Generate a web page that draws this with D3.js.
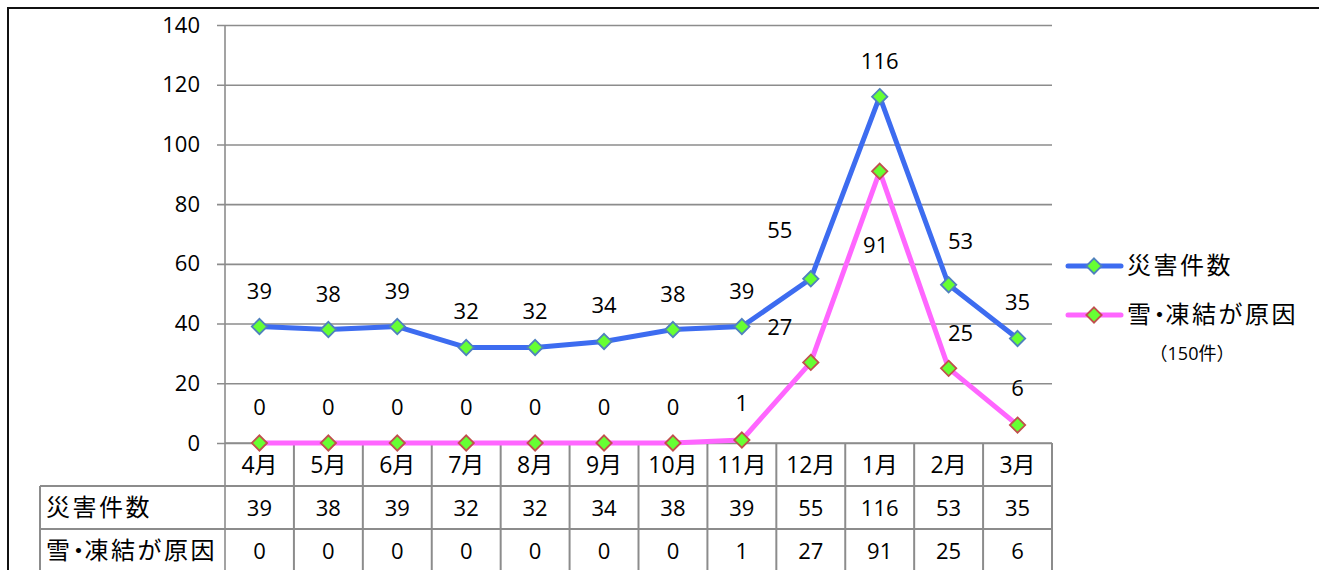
<!DOCTYPE html>
<html>
<head>
<meta charset="utf-8">
<script src="https://cdn.jsdelivr.net/npm/d3@7"></script>
<style>
  html, body { margin: 0; padding: 0; background: #fff; }
  svg { display: block; }
  text { font-family: "Open Sans", "Noto Sans CJK JP", sans-serif; fill: #000; }
  .cjk { font-family: "Noto Sans CJK JP", sans-serif; letter-spacing: 2.5px; }
  .half { font-feature-settings: "halt"; letter-spacing: 0; }
</style>
</head>
<body>
<svg id="chart" width="1319" height="570"></svg>
<script>
// Monthly counts
const months = ["4月", "5月", "6月", "7月", "8月", "9月", "10月", "11月", "12月", "1月", "2月", "3月"];
const disasterCounts = [39, 38, 39, 32, 32, 34, 38, 39, 55, 116, 53, 35];
const snowFreezeCounts = [0, 0, 0, 0, 0, 0, 0, 1, 27, 91, 25, 6];
const seriesNames = ["災害件数", "雪・凍結が原因"];
const legendNote = "（150件）";
const yTicks = [0, 20, 40, 60, 80, 100, 120, 140];

// label nudges (dx, dy) per series, per month
const labelShift = [
  [[0,-36],[0,-36],[0,-36],[0,-36],[0,-36],[0,-36],[0,-36],[0,-36],[-31,-49],[0,-36],[12,-44],[0,-37]],
  [[0,-36],[0,-36],[0,-36],[0,-36],[0,-36],[0,-36],[0,-36],[0,-37],[-31,-35],[-4,74],[12,-35],[0,-37]]
];

const svg = d3.select("#chart");
const plotLeft = 225, plotRight = 1052, plotTop = 25, plotBase = 443;
const rowH = 43;
const tableLeft = 40;
const gridColor = "#8c8c8c";
const numSize = 22;
const cjkSize = 24;

const x = d3.scaleBand().domain(months).range([plotLeft, plotRight]);
const y = d3.scaleLinear().domain([0, 140]).range([plotBase, plotTop]);

// writes a Japanese label, with the middle dot set half-width
function cjkLabel(sel, str) {
  sel.classed("cjk", true);
  str.split(/(・)/).filter(p => p.length).forEach(p => {
    const t = sel.append("tspan").text(p);
    if (p === "・") t.classed("half", true);
  });
  return sel;
}

// outer frame
svg.append("path")
  .attr("d", `M8,572 L8,8 L1322,8`)
  .attr("fill", "none").attr("stroke", "#111").attr("stroke-width", 2);

// gridlines and y ticks
const yAxis = d3.axisLeft(y).tickValues(yTicks).tickSize(-(plotRight - plotLeft)).tickSizeOuter(0).tickPadding(25);
const gy = svg.append("g").attr("transform", `translate(${plotLeft},0)`).call(yAxis);
gy.select(".domain").remove();
gy.selectAll(".tick line").attr("stroke", gridColor).attr("stroke-width", 1.6).attr("x1", -8);
gy.selectAll(".tick text").attr("font-size", numSize).attr("font-family", null).attr("fill", "#000");

// y axis line (runs down through the table)
svg.append("line").attr("x1", plotLeft).attr("x2", plotLeft).attr("y1", plotTop).attr("y2", plotBase + rowH * 3)
  .attr("stroke", gridColor).attr("stroke-width", 1.6);

// data table
const tbl = svg.append("g");
const rowsY = [plotBase, plotBase + rowH, plotBase + rowH * 2, plotBase + rowH * 3];
tbl.append("line").attr("x1", plotLeft).attr("x2", plotRight).attr("y1", plotBase).attr("y2", plotBase)
  .attr("stroke", gridColor).attr("stroke-width", 1.6);
[rowsY[1], rowsY[2]].forEach(yy => {
  tbl.append("line").attr("x1", tableLeft).attr("x2", plotRight).attr("y1", yy).attr("y2", yy)
    .attr("stroke", gridColor).attr("stroke-width", 2);
});
tbl.append("line").attr("x1", tableLeft).attr("x2", tableLeft).attr("y1", rowsY[1]).attr("y2", rowsY[3])
  .attr("stroke", gridColor).attr("stroke-width", 2);
months.forEach(m => {
  const xr = x(m) + x.bandwidth();
  tbl.append("line").attr("x1", xr).attr("x2", xr).attr("y1", plotBase).attr("y2", rowsY[3])
    .attr("stroke", gridColor).attr("stroke-width", 2);
});
tbl.selectAll("text.month").data(months).join("text")
  .attr("class", "month")
  .attr("x", d => x(d) + x.bandwidth() / 2)
  .attr("y", plotBase + rowH / 2 + 8)
  .attr("text-anchor", "middle").attr("font-size", 23)
  .text(d => d);
[disasterCounts, snowFreezeCounts].forEach((vals, r) => {
  const cy = rowsY[r + 1] + rowH / 2 + 8;
  cjkLabel(tbl.append("text").attr("x", tableLeft + 6).attr("y", cy).attr("font-size", cjkSize), seriesNames[r]);
  tbl.selectAll(`text.v${r}`).data(vals).join("text")
    .attr("class", `v${r}`)
    .attr("x", (d, i) => x(months[i]) + x.bandwidth() / 2)
    .attr("y", cy)
    .attr("text-anchor", "middle").attr("font-size", numSize)
    .text(d => d);
});

// series
const series = [
  { values: disasterCounts, line: "#3d6cf0", edge: "#4f81bd" },
  { values: snowFreezeCounts, line: "#ff66ff", edge: "#c0504d" }
];
const diamond = d3.symbol().type(d3.symbolDiamond2).size(150);
const lineGen = d3.line().x((d, i) => x(months[i]) + x.bandwidth() / 2).y(d => y(d));

series.forEach(s => {
  const g = svg.append("g");
  g.append("path").datum(s.values)
    .attr("d", lineGen).attr("fill", "none")
    .attr("stroke", s.line).attr("stroke-width", 5).attr("stroke-linejoin", "round");
  g.selectAll("path.pt").data(s.values).join("path")
    .attr("class", "pt")
    .attr("d", diamond)
    .attr("transform", (d, i) => `translate(${x(months[i]) + x.bandwidth() / 2},${y(d)})`)
    .attr("fill", "#66ff33").attr("stroke", s.edge).attr("stroke-width", 1.8);
});

// data labels
series.forEach((s, si) => {
  svg.append("g").selectAll("text").data(s.values).join("text")
    .attr("x", (d, i) => x(months[i]) + x.bandwidth() / 2 + labelShift[si][i][0])
    .attr("y", (d, i) => y(d) + labelShift[si][i][1] + 8)
    .attr("text-anchor", "middle").attr("font-size", numSize)
    .text(d => d);
});

// legend
const lg = svg.append("g");
series.forEach((s, si) => {
  const ly = 266 + si * 49;
  lg.append("line").attr("x1", 1068).attr("x2", 1121).attr("y1", ly).attr("y2", ly)
    .attr("stroke", s.line).attr("stroke-width", 5).attr("stroke-linecap", "round");
  lg.append("path").attr("d", diamond).attr("transform", `translate(1094,${ly})`)
    .attr("fill", "#66ff33").attr("stroke", s.edge).attr("stroke-width", 1.8);
  cjkLabel(lg.append("text").attr("x", 1127).attr("y", ly + 8).attr("font-size", cjkSize), seriesNames[si]);
});
lg.append("text").attr("x", 1192).attr("y", 360).attr("text-anchor", "middle")
  .attr("font-family", "'Noto Sans CJK JP', sans-serif")
  .attr("font-size", 18).text(legendNote);
</script>
</body>
</html>
